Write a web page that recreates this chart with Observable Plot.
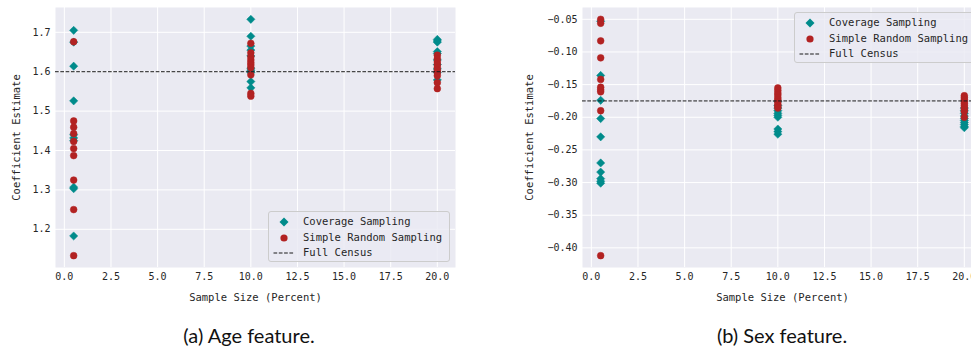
<!DOCTYPE html>
<html>
<head>
<meta charset="utf-8">
<script src="https://cdn.jsdelivr.net/npm/d3@7"></script>
<script src="https://cdn.jsdelivr.net/npm/@observablehq/plot@0.6"></script>
<style>
  html, body { margin: 0; padding: 0; background: #ffffff; overflow: hidden; }
  #wrap { position: relative; width: 971px; height: 352px; overflow: hidden; }
  .panel { position: absolute; top: 0; }
  .legend { position: absolute; box-sizing: border-box; border: 1px solid #cccccc; border-radius: 3px;
            background: rgba(234,234,242,0.8); font-family: "DejaVu Sans Mono", monospace; font-size: 10.5px; color: #262626; }
  .legend .row { position: absolute; height: 14px; line-height: 14px; white-space: nowrap; }
  .legend svg { position: absolute; }
  .caption { position: absolute; top: 323px; font-family: Lato, "Liberation Sans", sans-serif; font-size: 20px; color: #111; white-space: nowrap; transform: translateX(-50%); }
</style>
</head>
<body>
<div id="wrap"></div>
<script>
// ---------- data ----------
const sampleSizes = [0.5, 10, 20];
const xTicks = [0, 2.5, 5, 7.5, 10, 12.5, 15, 17.5, 20];

// Age feature
const ageCensus = 1.600;
const ageTicks = [1.2, 1.3, 1.4, 1.5, 1.6, 1.7];
const ageCov05 = [1.705, 1.675, 1.614, 1.526, 1.440, 1.432, 1.425, 1.307, 1.303, 1.183];
const ageCov10 = [1.733, 1.690, 1.665, 1.655, 1.640, 1.609, 1.604, 1.598, 1.575, 1.559];
const ageCov20 = [1.682, 1.678, 1.675, 1.651, 1.646, 1.630, 1.618, 1.607, 1.598, 1.579];
const ageSrs05 = [1.676, 1.475, 1.459, 1.443, 1.423, 1.405, 1.387, 1.325, 1.250, 1.133];
const ageSrs10 = [1.672, 1.648, 1.638, 1.630, 1.623, 1.617, 1.610, 1.592, 1.545, 1.538];
const ageSrs20 = [1.642, 1.633, 1.625, 1.618, 1.611, 1.604, 1.598, 1.590, 1.572, 1.557];

// Sex feature
const sexCensus = -0.175;
const sexTicks = [-0.40, -0.35, -0.30, -0.25, -0.20, -0.15, -0.10, -0.05];
const sexCov05 = [-0.053, -0.136, -0.174, -0.202, -0.230, -0.270, -0.284, -0.294, -0.298, -0.301];
const sexCov10 = [-0.176, -0.182, -0.186, -0.190, -0.194, -0.197, -0.200, -0.218, -0.222, -0.226];
const sexCov20 = [-0.186, -0.190, -0.194, -0.198, -0.202, -0.205, -0.208, -0.211, -0.214, -0.216];
const sexSrs05 = [-0.050, -0.056, -0.083, -0.109, -0.142, -0.154, -0.158, -0.161, -0.190, -0.412];
const sexSrs10 = [-0.155, -0.159, -0.163, -0.166, -0.170, -0.173, -0.176, -0.180, -0.183, -0.186];
const sexSrs20 = [-0.167, -0.170, -0.173, -0.176, -0.179, -0.182, -0.185, -0.188, -0.191, -0.200];

const seriesNames = ["Coverage Sampling", "Simple Random Sampling", "Full Census"];
const captions = ["(a) Age feature.", "(b) Sex feature."];
const TEAL = "#008b8b", RED = "#b22222", BG = "#eaeaf2";

function rows(groups) {
  const out = [];
  groups.forEach((vals, i) => vals.forEach(v => out.push({size: sampleSizes[i], value: v})));
  return out;
}

function panel({cov, srs, census, yTicks, yFmt, width, marginLeft, labelOffset}) {
  const all = cov.concat(srs).map(d => d.value);
  const lo = d3.min(all), hi = d3.max(all), pad = (hi - lo) * 0.05;
  return Plot.plot({
    width, height: 310,
    marginLeft, marginRight: 5, marginTop: 7, marginBottom: 43,
    x: {domain: [0.5 - 0.975, 20 + 0.975]},
    y: {domain: [lo - pad, hi + pad]},
    style: {fontFamily: "'DejaVu Sans Mono', monospace", fontSize: "10px", color: "#262626", background: "transparent", overflow: "visible"},
    marks: [
      Plot.frame({fill: BG, stroke: null}),
      Plot.gridX(xTicks, {stroke: "#ffffff", strokeOpacity: 1, strokeWidth: 1}),
      Plot.gridY(yTicks, {stroke: "#ffffff", strokeOpacity: 1, strokeWidth: 1}),
      Plot.dot(cov, {x: "size", y: "value", symbol: "diamond2", r: 3.7, fill: TEAL, stroke: TEAL, strokeWidth: 0.5}),
      Plot.dot(srs, {x: "size", y: "value", r: 3.4, fill: RED, stroke: RED, strokeWidth: 0.5}),
      Plot.ruleY([census], {stroke: "#1a1a1a", strokeWidth: 1, strokeDasharray: "3.7,1.6"}),
      Plot.axisX(xTicks, {tickSize: 0, tickPadding: 5, tickFormat: d3.format(".1f"), label: null}),
      Plot.axisX([], {tickSize: 0, fontSize: 10.5,
        label: "Sample Size (Percent)", labelAnchor: "center", labelArrow: "none", labelOffset: 33}),
      Plot.axisY(yTicks, {tickSize: 0, tickPadding: 5, tickFormat: d3.format(yFmt), label: null}),
      Plot.axisY([], {tickSize: 0, fontSize: 10.5,
        label: "Coefficient Estimate", labelAnchor: "center", labelArrow: "none", labelOffset})
    ]
  });
}

const wrap = document.getElementById("wrap");

const left = panel({
  cov: rows([ageCov05, ageCov10, ageCov20]), srs: rows([ageSrs05, ageSrs10, ageSrs20]),
  census: ageCensus, yTicks: ageTicks, yFmt: ".1f", width: 460, marginLeft: 55, labelOffset: 43
});
left.classList.add("panel"); left.style.left = "0px";
wrap.appendChild(left);

const right = panel({
  cov: rows([sexCov05, sexCov10, sexCov20]), srs: rows([sexSrs05, sexSrs10, sexSrs20]),
  census: sexCensus, yTicks: sexTicks, yFmt: ".2f", width: 507, marginLeft: 102, labelOffset: 57
});
right.classList.add("panel"); right.style.left = "480px";
wrap.appendChild(right);

function legend(x, y, w) {
  const box = document.createElement("div");
  box.className = "legend";
  Object.assign(box.style, {left: x + "px", top: y + "px", width: w + "px", height: "51px"});
  const symbols = [
    `<svg width="12" height="12" style="left:9px;top:2px"><path d="M6,1.5L10.5,6L6,10.5L1.5,6Z" fill="${TEAL}"/></svg>`,
    `<svg width="12" height="12" style="left:9px;top:2px"><circle cx="6" cy="6" r="3.6" fill="${RED}"/></svg>`,
    `<svg width="24" height="12" style="left:4px;top:2px"><line x1="0.5" x2="21" y1="6" y2="6" stroke="#1a1a1a" stroke-width="1" stroke-dasharray="3.7,1.6"/></svg>`
  ];
  seriesNames.forEach((name, i) => {
    const r = document.createElement("div");
    r.className = "row";
    Object.assign(r.style, {left: "0px", top: (2 + i * 15.5) + "px", width: "100%"});
    r.innerHTML = symbols[i] + `<span style="position:absolute;left:34px">${name}</span>`;
    box.appendChild(r);
  });
  wrap.appendChild(box);
}
legend(268, 211, 182);
legend(794, 12, 190);

captions.forEach((c, i) => {
  const d = document.createElement("div");
  d.className = "caption";
  d.textContent = c;
  d.style.left = (i === 0 ? 249 : 782) + "px";
  wrap.appendChild(d);
});
</script>
</body>
</html>
